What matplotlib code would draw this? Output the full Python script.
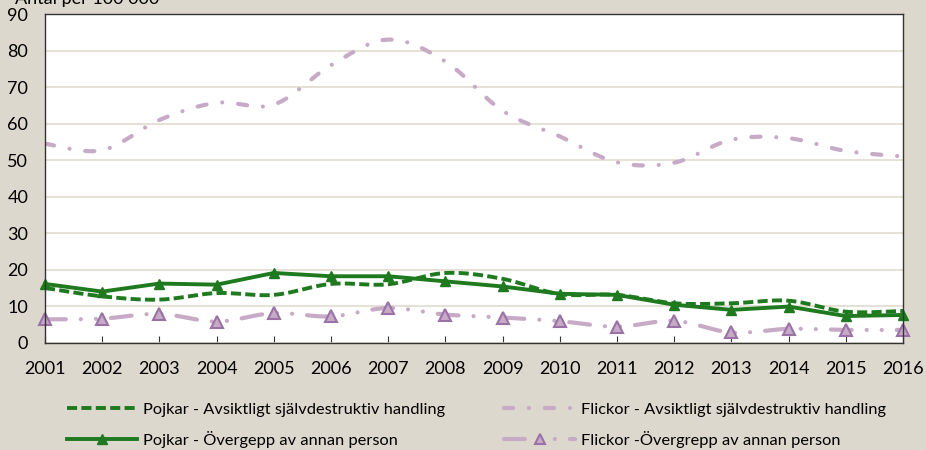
import matplotlib
matplotlib.use("Agg")
import matplotlib.pyplot as plt
from matplotlib.lines import Line2D
import numpy as np

# data
years = list(range(2001, 2017))
pojkar_sjalv = [15.0, 12.7, 11.8, 13.6, 13.1, 16.1, 16.0, 19.1, 17.5, 13.3, 13.1, 10.8, 10.8, 11.5, 8.5, 8.7]
flickor_sjalv = [54.5, 52.7, 61.0, 65.7, 65.2, 76.0, 83.0, 77.0, 63.5, 56.5, 49.4, 49.3, 55.6, 56.0, 52.5, 51.0]
pojkar_overgrepp = [16.1, 14.0, 16.2, 15.9, 19.1, 18.2, 18.2, 16.8, 15.4, 13.4, 13.1, 10.4, 9.0, 9.9, 7.3, 7.6]
flickor_overgrepp = [6.4, 6.6, 7.9, 5.8, 8.1, 7.2, 9.5, 7.7, 6.9, 5.9, 4.4, 6.0, 2.8, 3.8, 3.5, 3.5]

labels = ["Pojkar - Avsiktligt självdestruktiv handling",
          "Flickor - Avsiktligt självdestruktiv handling",
          "Pojkar - Övergepp av annan person",
          "Flickor -Övergrepp av annan person"]

BG = "#DDD8CD"
GREEN = "#1F7A1F"
LILAC = "#C6AAC6"
MARKER_EDGE = "#9A72A6"

DASH_FS = (2.2, 3.8, 0.01, 3.8)          # flickor sjalvdestruktiv: dash dot
DASH_FO = (5.0, 3.6, 0.01, 3.6, 0.01, 3.6)  # flickor overgrepp: dash dot dot
DASH_PS = (2.6, 1.1)                     # pojkar sjalvdestruktiv: short dash


def smooth(x, y, n=20):
    # bezier curve through the points (like Excel's smoothed line)
    x = np.asarray(x, float)
    y = np.asarray(y, float)
    xs, ys = [], []
    for i in range(len(x) - 1):
        p0 = np.array([x[max(i - 1, 0)], y[max(i - 1, 0)]])
        p1 = np.array([x[i], y[i]])
        p2 = np.array([x[i + 1], y[i + 1]])
        p3 = np.array([x[min(i + 2, len(x) - 1)], y[min(i + 2, len(x) - 1)]])
        c1 = p1 + (p2 - p0) / 6
        c2 = p2 - (p3 - p1) / 6
        t = np.linspace(0, 1, n)[:, None]
        pts = (1 - t) ** 3 * p1 + 3 * (1 - t) ** 2 * t * c1 + 3 * (1 - t) * t ** 2 * c2 + t ** 3 * p2
        xs.extend(pts[:, 0])
        ys.extend(pts[:, 1])
    return xs, ys


plt.rcParams['font.family'] = ['Lato', 'DejaVu Sans']

fig = plt.figure(figsize=(9.26, 4.5), dpi=100, facecolor=BG)
ax = fig.add_axes([0.0486, 0.2384, 0.9266, 0.7304])
ax.set_facecolor("white")

sx, sy = smooth(years, flickor_sjalv)
l2, = ax.plot(sx, sy, color=LILAC, lw=3.0, dashes=DASH_FS, dash_capstyle='round')
sx, sy = smooth(years, flickor_overgrepp)
ax.plot(sx, sy, color=LILAC, lw=3.0, dashes=DASH_FO, dash_capstyle='round')
ax.plot(years, flickor_overgrepp, ls='none', marker='^', ms=8, mfc=LILAC,
        mec=MARKER_EDGE, mew=1.5, clip_on=False)
sx, sy = smooth(years, pojkar_sjalv)
l1, = ax.plot(sx, sy, color=GREEN, lw=2.8, dashes=DASH_PS)
l3, = ax.plot(years, pojkar_overgrepp, color=GREEN, lw=2.8, marker='^', ms=7,
              clip_on=False)

# legend handle with marker for the dash-dot-dot line
h4 = Line2D([], [], color=LILAC, lw=3.0, dashes=DASH_FO, dash_capstyle='round',
            marker='^', ms=7, mfc=LILAC, mec=MARKER_EDGE, mew=1.5)

ax.set_xlim(2001, 2016)
ax.set_ylim(0, 90)
ax.set_yticks(range(0, 91, 10))
ax.set_xticks(years)
ax.yaxis.grid(True, color="#E2DBD0", lw=1.2)
ax.set_axisbelow(True)
for s in ax.spines.values():
    s.set_color("#333333")
    s.set_linewidth(1.0)
ax.tick_params(axis='x', direction='in', length=5, pad=13, labelsize=13, color="#333333")
ax.tick_params(axis='y', length=0, pad=12, labelsize=13)

# axis title sits at the very top edge, partly cut off as in the original
fig.text(0.016, 0.991, "Antal per 100 000", fontsize=13, va='baseline', ha='left')

# column-major order so rows read: pojkar/flickor sjalv, pojkar/flickor overgrepp
fig.legend([l1, l3, l2, h4], [labels[0], labels[2], labels[1], labels[3]],
           loc='upper left', bbox_to_anchor=(67 / 926, 0.106),
           ncol=2, frameon=False, fontsize=11.8, handlelength=4.3, handletextpad=0.35,
           columnspacing=3.6, labelspacing=0.85, borderpad=0, borderaxespad=0)

fig.savefig("out.png", dpi=100, facecolor=BG)
